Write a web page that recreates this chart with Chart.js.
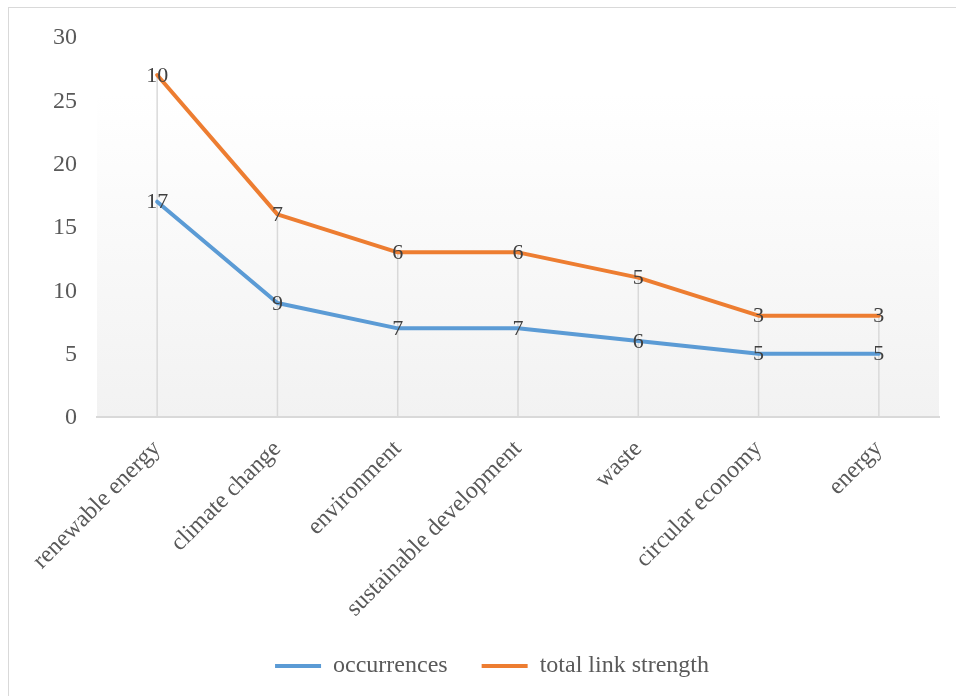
<!DOCTYPE html>
<html>
<head>
<meta charset="utf-8">
<script src="https://cdn.jsdelivr.net/npm/chart.js@4.4.1/dist/chart.umd.min.js"></script>
<style>
  html, body { margin: 0; padding: 0; overflow: hidden; background: #fff; }
  #frame { position: absolute; left: 8px; top: 7px; width: 1000px; height: 800px; border: 1px solid #d9d9d9; }
  #wrap { position: absolute; left: 0; top: 0; width: 956px; height: 696px; }
</style>
</head>
<body>
<div id="frame"></div>
<div id="wrap"><canvas id="keywordChart"></canvas></div>
<script>
const categories = ['renewable energy', 'climate change', 'environment', 'sustainable development', 'waste', 'circular economy', 'energy'];
const occurrences = [17, 9, 7, 7, 6, 5, 5];
const linkStrength = [10, 7, 6, 6, 5, 3, 3];
const yTicks = [0, 5, 10, 15, 20, 25, 30];

const serif = '"Liberation Serif", "Times New Roman", serif';
const textColor = '#595959';

// plot area background: white at the top fading to light grey
const plotBackground = {
  id: 'plotBackground',
  beforeDraw(chart) {
    const { ctx, chartArea: a } = chart;
    const g = ctx.createLinearGradient(0, a.top, 0, a.bottom);
    g.addColorStop(0, '#ffffff');
    g.addColorStop(0.15, '#ffffff');
    g.addColorStop(1, '#f2f2f2');
    ctx.save();
    ctx.fillStyle = g;
    ctx.fillRect(a.left, a.top, a.right - a.left, a.bottom - a.top);
    ctx.restore();
  }
};

// drop lines from the top series down to the axis
const dropLines = {
  id: 'dropLines',
  beforeDatasetsDraw(chart) {
    const { ctx } = chart;
    const top = chart.getDatasetMeta(chart.data.datasets.length - 1);
    const y0 = chart.scales.y.getPixelForValue(0);
    ctx.save();
    ctx.strokeStyle = '#d9d9d9';
    ctx.lineWidth = 1.5;
    top.data.forEach(pt => {
      ctx.beginPath();
      ctx.moveTo(pt.x, pt.y);
      ctx.lineTo(pt.x, y0);
      ctx.stroke();
    });
    ctx.restore();
  }
};

// value labels centred on each point
const valueLabels = {
  id: 'valueLabels',
  afterDatasetsDraw(chart) {
    const { ctx } = chart;
    ctx.save();
    ctx.font = '22px ' + serif;
    ctx.fillStyle = '#404040';
    ctx.textAlign = 'center';
    ctx.textBaseline = 'middle';
    chart.data.datasets.forEach((ds, i) => {
      chart.getDatasetMeta(i).data.forEach((pt, j) => {
        ctx.fillText(String(ds.data[j]), pt.x, pt.y + 1);
      });
    });
    ctx.restore();
  }
};

// legend sits a little right of the canvas centre in the original
const legendNudge = {
  id: 'legendNudge',
  afterLayout(chart) {
    chart.legend.left += 6;
    chart.legend.right += 6;
  }
};

new Chart(document.getElementById('keywordChart'), {
  type: 'line',
  data: {
    labels: categories,
    datasets: [{
      label: 'occurrences',
      data: occurrences,
      borderColor: '#5b9bd5',
      backgroundColor: '#5b9bd5',
      borderWidth: 4,
      borderCapStyle: 'round',
      borderJoinStyle: 'round',
      pointRadius: 0,
      fill: false
    }, {
      label: 'total link strength',
      data: linkStrength,
      borderColor: '#ed7d31',
      backgroundColor: '#ed7d31',
      borderWidth: 4,
      borderCapStyle: 'round',
      borderJoinStyle: 'round',
      pointRadius: 0,
      fill: false
    }]
  },
  options: {
    responsive: true,
    maintainAspectRatio: false,
    animation: false,
    // left padding is small because the first rotated label pushes the plot right
    layout: { padding: { left: 33, right: 17, top: 37, bottom: 8 } },
    plugins: {
      tooltip: { enabled: false },
      legend: {
        position: 'bottom',
        labels: {
          usePointStyle: true,
          pointStyle: 'line',
          pointStyleWidth: 46,
          boxHeight: 4,
          padding: 34,
          color: textColor,
          font: { family: serif, size: 24 }
        }
      }
    },
    scales: {
      x: {
        offset: true,
        grid: { display: false, drawTicks: false },
        border: { display: true, color: '#d9d9d9', width: 2 },
        ticks: {
          color: textColor,
          font: { family: serif, size: 24 },
          minRotation: 45,
          maxRotation: 45,
          padding: 18
        },
        afterFit(scale) {
          scale.height = 203;
        }
      },
      y: {
        stacked: true,
        min: 0,
        max: 30,
        grid: { display: false, drawTicks: false },
        border: { display: false },
        afterBuildTicks(scale) { scale.ticks = yTicks.map(v => ({ value: v })); },
        ticks: {
          color: textColor,
          font: { family: serif, size: 24 },
          padding: 20,
          labelOffset: 1
        }
      }
    }
  },
  plugins: [plotBackground, dropLines, valueLabels, legendNudge]
});
</script>
</body>
</html>
